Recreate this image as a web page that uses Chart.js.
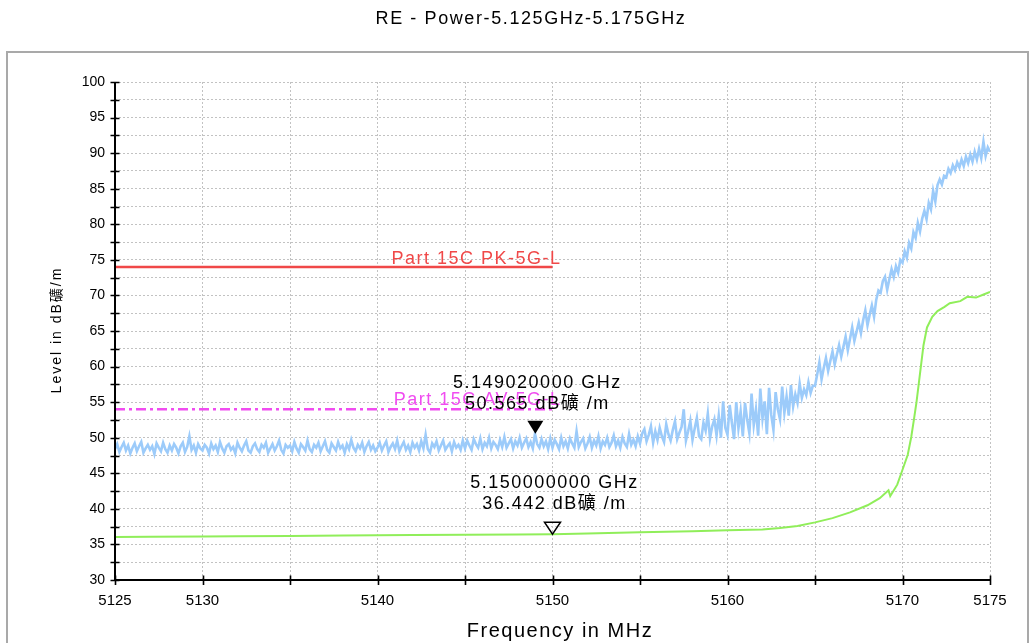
<!DOCTYPE html>
<html lang="en">
<head>
<meta charset="UTF-8" />
<title>RE - Power-5.125GHz-5.175GHz</title>
<script src="https://cdn.jsdelivr.net/npm/chart.js"></script>
<style>
  html, body { margin: 0; padding: 0; background: #fff; }
  #wrap { width: 1030px; height: 643px; }
</style>
</head>
<body>
<div id="wrap"><canvas id="reChart"></canvas></div>
<script>
// sweep grid of the peak trace (MHz)
const SWEEP_START = 5125;
const SWEEP_STEP = 0.125;

// peak detector trace, dBuV/m, one value per sweep step (40 per 5 MHz)
const peakLevel = [
  48.4, 49.1, 48.0, 48.7, 49.3, 48.2, 48.9, 47.8, 48.6, 49.2, 48.1, 48.8, 49.4, 47.9, 48.5, 49.0, 48.3, 48.8, 47.7, 49.2,
  48.6, 48.1, 49.3, 48.4, 47.9, 48.9, 48.2, 49.1, 48.6, 47.8, 48.8, 49.3, 48.0, 48.7, 50.2, 48.3, 48.9, 47.9, 49.1, 48.5,
  48.2, 49.0, 48.6, 47.8, 49.2, 48.4, 48.9, 48.0, 49.4, 48.5, 47.9, 48.8, 49.1, 48.3, 48.7, 47.8, 49.3, 48.6, 48.1, 48.9,
  49.5, 48.2, 47.9, 48.8, 49.2, 48.4, 48.0, 49.0, 48.6, 49.3, 47.9, 48.5, 49.1, 48.2, 48.8, 49.6, 48.3, 47.8, 49.0, 48.6,
  48.9, 48.1, 49.4, 48.5, 47.9, 49.1, 48.7, 48.2, 49.6, 48.4, 48.0, 49.0, 48.6, 49.3, 48.1, 48.8, 49.5, 48.3, 47.9, 49.2,
  48.7, 48.2, 49.4, 48.5, 48.9, 47.9, 49.1, 48.4, 49.7, 48.6, 48.1, 49.0, 48.5, 49.3, 48.0, 48.8, 49.4, 48.3, 48.9, 48.1,
  48.6, 49.3, 48.2, 48.9, 49.5, 48.0, 48.7, 49.2, 48.4, 49.6, 48.1, 48.8, 49.4, 48.3, 48.9, 48.0, 49.3, 48.6, 49.1, 48.2,
  49.5, 48.5, 50.4, 48.4, 47.9, 49.2, 48.7, 49.5, 48.2, 48.9, 49.6, 48.3, 48.8, 49.2, 48.1, 49.4, 48.6, 49.0, 48.3, 49.6,
  48.5, 49.6, 48.9, 48.3, 49.8, 49.1, 48.6, 49.9, 48.4, 49.3, 48.8, 50.0, 48.5, 49.4, 49.0, 48.4, 49.7, 48.7, 50.1, 48.6,
  49.2, 49.8, 48.5, 49.5, 48.9, 50.0, 48.6, 49.3, 49.9, 48.7, 49.4, 48.5, 50.565, 49.1, 48.6, 49.8, 48.8, 49.5, 48.4, 49.9,
  48.6, 49.7, 49.1, 48.4, 50.0, 48.8, 49.5, 48.5, 49.9, 49.2, 48.6, 50.9, 48.7, 49.4, 49.9, 48.5, 49.2, 50.1, 48.6, 49.6,
  48.9, 50.2, 48.5, 49.5, 49.0, 50.0, 48.7, 49.3, 50.3, 48.8, 49.6, 48.6, 50.1, 49.2, 48.7, 50.5, 49.0, 49.7, 48.8, 50.2,
  49.2, 50.6, 51.2, 49.5, 50.4, 51.6, 49.3, 50.9, 49.7, 51.4, 50.2, 49.4, 51.9, 50.5, 49.6, 51.1, 52.3, 49.8, 50.7, 51.5,
  54.0, 49.6, 50.9, 52.4, 49.7, 51.3, 52.8, 50.2, 49.8, 52.1, 51.0, 53.4, 49.9, 51.6, 52.6, 50.3, 53.1, 50.0, 55.1, 51.4,
  50.4, 54.6, 52.1, 49.8, 55.0, 51.3, 53.7, 50.2, 54.9, 52.5, 50.6, 56.2, 51.8, 54.0, 50.3, 56.9, 52.7, 55.1, 50.5, 57.0,
  53.2, 51.1, 56.4, 54.0, 52.6, 57.2, 53.5, 55.8, 53.1, 57.4, 54.4, 56.1, 54.9, 57.6, 55.6, 56.8, 56.0, 57.8, 56.3, 57.3,
  57.3, 58.9, 60.6, 58.2, 59.8, 61.2, 59.4, 60.8, 62.1, 60.3, 61.7, 63.0, 61.4, 62.8, 64.2, 62.3, 63.9, 65.5, 63.6, 64.9,
  66.2, 64.7, 66.5, 67.9, 65.8, 67.3, 68.6, 67.0, 69.4, 70.7, 70.4, 72.0, 72.6, 70.8, 72.3, 73.7, 72.6, 74.1, 73.2, 75.0,
  74.6, 76.2, 75.3, 77.4, 76.6, 78.9, 78.1, 80.2, 79.0, 80.8, 81.9, 80.7, 83.0, 82.1, 84.7, 83.2, 85.5, 86.3, 85.6, 86.8,
  86.6, 87.8, 87.2, 88.3, 87.6, 88.7, 88.0, 89.1, 88.2, 89.5, 88.6, 89.8, 88.8, 90.2, 89.1, 90.6, 89.3, 91.6, 89.6, 90.8,
  90.2
];

// average detector trace
const avgFreq = [
  5125, 5127, 5130, 5132, 5135, 5138, 5140, 5142, 5145, 5148, 5150, 5152, 5155, 5158, 5160,
  5162, 5163, 5164, 5165, 5166, 5167, 5168, 5168.7, 5169.2, 5169.3, 5169.7, 5170, 5170.3,
  5170.5, 5170.65, 5170.8, 5171, 5171.2, 5171.4, 5171.7, 5172, 5172.4, 5172.7, 5173.3,
  5173.7, 5174.2, 5174.6, 5175
];
const avgLevel = [
  36.05, 36.08, 36.1, 36.15, 36.2, 36.25, 36.3, 36.33, 36.36, 36.4, 36.44, 36.55, 36.7, 36.85, 37.0,
  37.1, 37.3, 37.6, 38.1, 38.7, 39.5, 40.5, 41.5, 42.6, 41.8, 43.4, 45.5, 47.6,
  50.1, 52.5, 55.0, 59.0, 63.0, 65.5, 67.0, 67.8, 68.4, 68.9, 69.2,
  69.8, 69.7, 70.1, 70.5
];

// limit lines
const limitFreq = [5125, 5150];
const pkLimit = [74, 74];
const avLimit = [54, 54];
const pkLimitName = 'Part 15C PK-5G-L';
const avLimitName = 'Part 15C AV-5G-L';

// markers: peak trace (filled), average trace (open)
const markerFreq = [5149.02, 5150.0];
const markerLevel = [50.565, 36.442];
const markerFilled = [true, false];

const xLabelTicks = [5125, 5130, 5140, 5150, 5160, 5170, 5175];

const TITLE = 'RE - Power-5.125GHz-5.175GHz';
const X_TITLE = 'Frequency in MHz';
const Y_TITLE = 'Level in dB礦/m';
const UNIT = ' dB礦 /m';

const FONT = '"Liberation Sans", Arial, "Noto Sans CJK SC", sans-serif';
const PK_COLOR = '#f04848';
const AV_COLOR = '#f04cf0';
const PEAK_COLOR = '#9ccbfa';
const AVG_COLOR = '#90ee5a';

const pts = (xs, ys) => xs.map((x, i) => ({ x: x, y: ys[i] }));
const peakData = peakLevel.map((v, i) => ({ x: SWEEP_START + i * SWEEP_STEP, y: v }));

const decorPlugin = {
  id: 'decor',
  beforeDraw(chart) {
    const ctx = chart.ctx;
    ctx.save();
    ctx.fillStyle = '#fff';
    ctx.fillRect(0, 0, chart.width, chart.height);
    ctx.strokeStyle = '#a9a9a9';
    ctx.lineWidth = 2;
    ctx.strokeRect(7, 52, 1021, 700);
    ctx.fillStyle = '#000';
    ctx.font = '18px ' + FONT;
    ctx.letterSpacing = '1.6px';
    ctx.textAlign = 'center';
    ctx.textBaseline = 'alphabetic';
    ctx.fillText(TITLE, 531, 24);
    ctx.restore();
  },
  afterDatasetsDraw(chart) {
    const ctx = chart.ctx;
    const xs = chart.scales.x, ys = chart.scales.y;
    const { left, right, top, bottom } = chart.chartArea;
    ctx.save();

    // axis lines with ticks crossing them
    ctx.strokeStyle = '#000';
    ctx.lineWidth = 2;
    ctx.beginPath();
    ctx.moveTo(left, top);
    ctx.lineTo(left, bottom);
    ctx.lineTo(right, bottom);
    ctx.stroke();
    ctx.lineWidth = 1.6;
    ctx.beginPath();
    ys.ticks.forEach(t => {
      const py = Math.round(ys.getPixelForValue(t.value)) + 0.5;
      ctx.moveTo(left - 4.5, py);
      ctx.lineTo(left + 4.5, py);
    });
    xs.ticks.forEach(t => {
      const px = Math.round(xs.getPixelForValue(t.value)) + 0.5;
      ctx.moveTo(px, bottom - 4.5);
      ctx.lineTo(px, bottom + 5);
    });
    ctx.stroke();

    // limit names
    ctx.font = '18px ' + FONT;
    ctx.letterSpacing = '1.5px';
    ctx.textBaseline = 'alphabetic';
    ctx.textAlign = 'right';
    const limEnd = xs.getPixelForValue(limitFreq[1]) + 9;
    ctx.fillStyle = PK_COLOR;
    ctx.fillText(pkLimitName, limEnd, ys.getPixelForValue(pkLimit[1]) - 3);
    ctx.fillStyle = AV_COLOR;
    ctx.fillText(avLimitName, limEnd, ys.getPixelForValue(avLimit[1]) - 4);

    // markers
    ctx.textAlign = 'center';
    markerFreq.forEach((f, i) => {
      const px = xs.getPixelForValue(f);
      const tip = ys.getPixelForValue(markerLevel[i]);
      ctx.fillStyle = '#000';
      ctx.fillText((f / 1000).toFixed(9) + ' GHz', px + 2, tip - 46);
      ctx.fillText(markerLevel[i].toFixed(3) + UNIT, px + 2, tip - 25);
      ctx.beginPath();
      if (markerFilled[i]) {
        ctx.moveTo(px - 8, tip - 13);
        ctx.lineTo(px + 8, tip - 13);
        ctx.lineTo(px, tip);
        ctx.closePath();
        ctx.fill();
      } else {
        ctx.moveTo(px - 8, tip - 12);
        ctx.lineTo(px + 8, tip - 12);
        ctx.lineTo(px, tip);
        ctx.closePath();
        ctx.lineWidth = 1.5;
        ctx.stroke();
      }
    });

    // axis titles
    ctx.fillStyle = '#000';
    ctx.font = '20px ' + FONT;
    ctx.letterSpacing = '1.5px';
    ctx.fillText(X_TITLE, 560, 637);
    ctx.save();
    ctx.translate(57, 330);
    ctx.rotate(-Math.PI / 2);
    ctx.font = '14px ' + FONT;
    ctx.letterSpacing = '2px';
    ctx.textBaseline = 'middle';
    ctx.fillText(Y_TITLE, 0, 0);
    ctx.restore();

    ctx.restore();
  }
};

const gridOpts = { color: '#c2c2c2', lineWidth: 1, drawTicks: false };
const borderOpts = { display: false, dash: [2, 2] };

new Chart(document.getElementById('reChart'), {
  type: 'line',
  data: {
    datasets: [
      { label: pkLimitName, data: pts(limitFreq, pkLimit), borderColor: PK_COLOR, borderWidth: 2.5, pointRadius: 0 },
      { label: avLimitName, data: pts(limitFreq, avLimit), borderColor: AV_COLOR, borderWidth: 2.5, borderDash: [10, 4, 3, 4], pointRadius: 0 },
      { label: 'AV', data: pts(avgFreq, avgLevel), borderColor: AVG_COLOR, borderWidth: 2, pointRadius: 0 },
      { label: 'PK', data: peakData, borderColor: PEAK_COLOR, borderWidth: 2.6, pointRadius: 0 }
    ]
  },
  options: {
    responsive: true,
    maintainAspectRatio: false,
    animation: false,
    layout: { padding: { top: 82, left: 0, right: 40, bottom: 0 } },
    plugins: { legend: { display: false }, tooltip: { enabled: false }, title: { display: false } },
    elements: { line: { tension: 0 } },
    scales: {
      x: {
        type: 'linear', min: 5125, max: 5175,
        afterFit(s) { s.height = 63; },
        ticks: {
          stepSize: 5, autoSkip: false, maxRotation: 0, padding: 12, color: '#000',
          font: { family: FONT, size: 15 },
          callback: v => xLabelTicks.includes(v) ? String(v) : ''
        },
        grid: gridOpts,
        border: borderOpts
      },
      y: {
        min: 30, max: 100,
        afterFit(s) { s.width = 115; },
        ticks: {
          stepSize: 2.5, autoSkip: false, padding: 10, color: '#000',
          font: { family: FONT, size: 14 },
          callback: v => v % 5 === 0 ? String(v) : ''
        },
        grid: gridOpts,
        border: borderOpts
      }
    }
  },
  plugins: [decorPlugin]
});
</script>
</body>
</html>
